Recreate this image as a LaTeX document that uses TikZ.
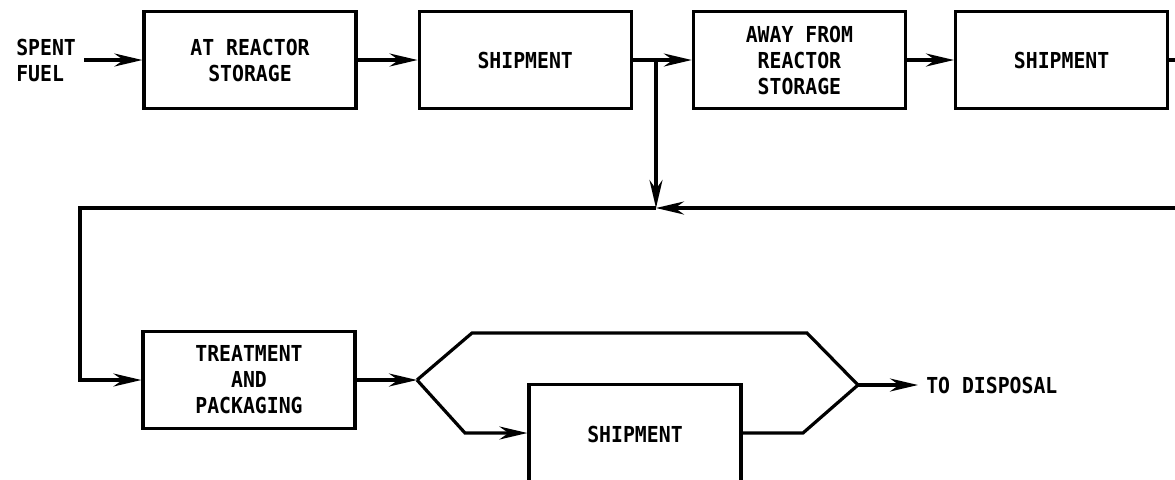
\documentclass[tikz,border=0pt]{standalone}
\usepackage{fontspec}
\setsansfont{DejaVu Sans Mono}[FakeStretch=0.9]
\usetikzlibrary{arrows.meta}
\usetikzlibrary{positioning}

\begin{document}
\begin{tikzpicture}[
		x=0.5pt,
		y=-0.5pt,
		>={Stealth[length=14pt,width=6.5pt]},
		line width=1.6pt,
		node distance=30pt,
		main node/.style={font=\sffamily\bfseries\fontsize{11}{13}\selectfont, align=center}
		,
		boxed node/.style={
			main node,
			draw,
			minimum width=106pt,
			minimum height=48.5pt,
			inner sep=0pt
		}
		]
		\useasboundingbox (0,0) rectangle (1175,479);
		
		\node[main node, align=left, anchor=west] (fuel) at (8,60) {SPENT\\FUEL};
		\node[boxed node] (n1) at (250,60) {AT REACTOR\\STORAGE};
		\node[boxed node] (n2) [right=30pt of n1] {SHIPMENT};
		\node[boxed node] (n3) [right=29.5pt of n2] {AWAY FROM\\REACTOR\\STORAGE};
		\node[boxed node] (n4) [right=23.5pt of n3] {SHIPMENT};
		\node[boxed node] (n5) at (249,380) {TREATMENT\\AND\\PACKAGING};
		\node[boxed node, minimum height=50pt, anchor=north] (n6) at (635,383) {SHIPMENT};
		\node[main node, anchor=west] (disp) at (918,385) {TO DISPOSAL};
		
		\coordinate (split1) at (656,60);
		\coordinate (join) at (656,208);
		\coordinate (rturn) at (1182,60);
		\coordinate (lturn) at (80,208);
		\coordinate (split2) at (417,380);
		\coordinate (up1) at (472,333);
		\coordinate (up2) at (807,333);
		\coordinate (merge) at (858,385);
		\coordinate (low1) at (465,433);
		\coordinate (low2) at (803,433);
		
		\path[->]
		(fuel) edge (n1)
		(n1) edge (n2)
		(n2) edge (n3)
		(n3) edge (n4)
		(split1) edge (join)
		(n5) edge (split2)
		(merge) edge (disp);
		\draw[->] (n4) -- (rturn) |- (join);
		\draw[->] (join) -- (lturn) |- (n5);
		\draw (split2) -- (up1) -- (up2) -- (merge);
		\draw[->] (split2) -- (low1) -- (n6.west |- low1);
		\draw (n6.east |- low2) -- (low2) -- (merge);
	\end{tikzpicture}
\end{document}
